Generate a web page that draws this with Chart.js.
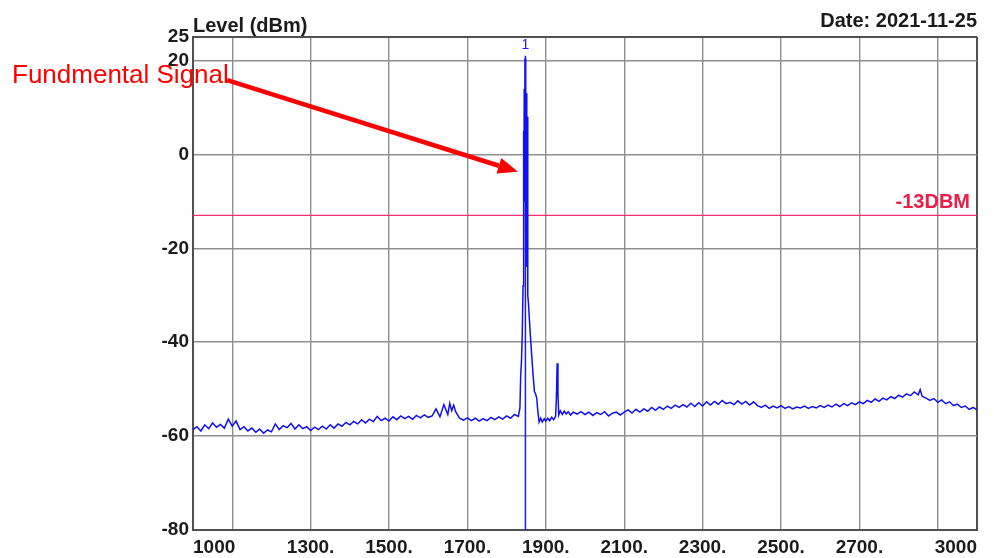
<!DOCTYPE html>
<html>
<head>
<meta charset="utf-8">
<script src="https://cdn.jsdelivr.net/npm/chart.js@4/dist/chart.umd.min.js"></script>
<style>
  html, body { margin: 0; padding: 0; background: #fff; }
  #spectrum { display: block; }
</style>
</head>
<body>
<canvas id="spectrum" width="994" height="558"></canvas>
<script>
// spectrum trace
const freqMHz = [
  1000, 1010, 1020, 1030, 1040, 1050, 1060, 1070, 1080, 1090,
  1100, 1110, 1120, 1130, 1140, 1150, 1160, 1170, 1180, 1190,
  1200, 1210, 1220, 1230, 1240, 1250, 1260, 1270, 1280, 1290,
  1300, 1310, 1320, 1330, 1340, 1350, 1360, 1370, 1380, 1390,
  1400, 1410, 1420, 1430, 1440, 1450, 1460, 1470, 1480, 1490,
  1500, 1510, 1520, 1530, 1540, 1550, 1560, 1570, 1580, 1590,
  1600, 1610, 1620, 1630, 1640, 1650, 1655, 1660, 1665, 1670,
  1680, 1690, 1700, 1710, 1720, 1730, 1740, 1750, 1760, 1770,
  1780, 1790, 1800, 1810, 1820, 1830,
  1834, 1836, 1838, 1840, 1842, 1843, 1844, 1845, 1846, 1847,
  1848, 1849, 1850, 1851, 1852, 1853, 1854, 1856, 1858, 1861,
  1865, 1868, 1871, 1874, 1877, 1880,
  1883, 1887, 1891, 1896, 1900, 1905, 1910, 1915, 1920, 1925,
  1927, 1929, 1931, 1933, 1937, 1942, 1947, 1952, 1957, 1963,
  1970, 1980, 1990, 2000, 2010, 2020, 2030, 2040, 2050, 2060,
  2070, 2080, 2090, 2100, 2110, 2120, 2130, 2140, 2150, 2160,
  2170, 2180, 2190, 2200, 2210, 2220, 2230, 2240, 2250, 2260,
  2270, 2280, 2290, 2300, 2310, 2320, 2330, 2340, 2350, 2360,
  2370, 2380, 2390, 2400, 2410, 2420, 2430, 2440, 2450, 2460,
  2470, 2480, 2490, 2500, 2510, 2520, 2530, 2540, 2550, 2560,
  2570, 2580, 2590, 2600, 2610, 2620, 2630, 2640, 2650, 2660,
  2670, 2680, 2690, 2700, 2710, 2720, 2730, 2740, 2750, 2760,
  2770, 2780, 2790, 2800, 2810, 2820, 2830, 2840, 2850, 2855,
  2860, 2870, 2880, 2890, 2900, 2910, 2920, 2930, 2940, 2950,
  2960, 2970, 2980, 2990, 3000
];
const levelDbm = [
  -58.6, -58.0, -58.9, -57.6, -58.4, -57.2, -58.1, -57.5, -58.3, -56.4,
  -57.9, -56.8, -58.6, -58.0, -58.9, -58.3, -59.2, -58.5, -59.4, -58.7,
  -59.1, -57.4, -58.6, -57.8, -58.2, -57.3, -58.5, -57.6, -58.4, -58.0,
  -58.8, -58.1, -58.6, -57.9, -58.5, -57.6, -58.3, -57.4, -57.9, -57.1,
  -57.6, -56.9, -57.4, -56.5, -57.2, -56.4, -56.9, -55.8, -56.7, -56.2,
  -56.8, -55.9, -56.5, -55.7, -56.3, -55.8, -56.4, -55.6, -56.1, -55.5,
  -56.0, -55.7, -54.2, -55.9, -53.3, -55.4, -53.0, -54.6, -53.4, -54.8,
  -56.2, -56.6, -56.1, -56.7, -56.2, -56.8, -56.3, -56.7, -56.0, -56.5,
  -55.9, -56.4, -55.7, -56.2, -55.4, -55.8,
  -54.0, -47.0, -44.0, -38.0, -28.0, 5.0, -22.0, 14.0, -10.0, 20.5,
  2.0, 15.0, -15.0, 13.0, -24.0, 8.0, -30.0, -32.0, -35.0, -39.0,
  -44.0, -47.5, -50.5, -51.0, -52.0, -55.0,
  -57.0, -56.2, -57.0, -56.3, -56.8, -56.2, -56.7, -56.0, -56.5, -55.8,
  -52.0, -44.5, -51.0, -55.5, -54.6, -55.4, -54.7, -55.3, -54.8, -55.5,
  -54.9, -55.3, -54.8, -55.4, -54.9, -55.6, -55.0, -55.4, -54.8, -55.7,
  -55.1, -54.9, -55.5, -54.9, -54.4, -55.1, -54.3, -54.9, -54.2, -54.7,
  -53.9, -54.5, -53.8, -54.3, -53.6, -54.1, -53.4, -53.9, -53.3, -53.8,
  -53.0, -53.7, -52.9, -53.6, -52.7, -53.4, -52.6, -53.2, -52.4, -53.1,
  -52.8, -53.3, -52.5, -53.2, -52.6, -53.4, -52.7, -53.5, -53.9, -53.4,
  -54.1, -53.6, -54.0, -53.5, -54.1, -53.7, -54.2, -53.8, -54.0, -53.6,
  -54.1, -53.7, -54.0, -53.5, -53.9, -53.4, -53.8, -53.2, -53.7, -53.1,
  -53.5, -52.9, -53.3, -52.7, -53.1, -52.4, -52.8, -52.1, -52.6, -51.9,
  -52.3, -51.6, -52.0, -51.3, -51.7, -51.0, -51.4, -50.6, -51.2, -50.1,
  -51.5, -51.9, -52.4, -52.0, -52.8, -52.3, -53.1, -52.7, -53.5, -53.2,
  -53.9, -53.6, -54.3, -53.9, -54.4
];

const markerFreq = 1848;
const markerLevels = [-80, 21];
const limitDbm = -13;

const xTicks = [1000, 1100, 1300, 1500, 1700, 1900, 2100, 2300, 2500, 2700, 2900, 3000];
const yTicks = [-80, -60, -40, -20, 0, 20, 25];

const FONT = "'Liberation Sans', Arial, sans-serif";
const INK = '#1b1b1b';

const overlay = {
  id: 'overlay',
  afterDraw(chart) {
    const { ctx, chartArea: area, scales: { x, y } } = chart;
    ctx.save();

    // header texts
    ctx.fillStyle = INK;
    ctx.font = `bold 20px ${FONT}`;
    ctx.textBaseline = 'alphabetic';
    ctx.textAlign = 'left';
    ctx.fillText('Level (dBm)', area.left, 32);
    ctx.textAlign = 'right';
    ctx.fillText('Date: 2021-11-25', area.right, 27);

    // limit label
    ctx.fillStyle = '#e8204a';
    ctx.font = `bold 20px ${FONT}`;
    ctx.fillText('-13DBM', area.right - 7, y.getPixelForValue(limitDbm) - 7);

    // marker number
    ctx.fillStyle = '#1a1aff';
    ctx.font = `14px ${FONT}`;
    ctx.textAlign = 'center';
    ctx.textBaseline = 'top';
    ctx.fillText('1', x.getPixelForValue(markerFreq), area.top + 1);

    // annotation
    ctx.fillStyle = '#ff0000';
    ctx.font = `26px ${FONT}`;
    ctx.textAlign = 'left';
    ctx.textBaseline = 'alphabetic';
    ctx.fillText('Fundmental Signal', 12, 83);

    const x0 = x.getPixelForValue(1087), y0 = y.getPixelForValue(15.8);
    const x1 = x.getPixelForValue(1829), y1 = y.getPixelForValue(-3.7);
    const ang = Math.atan2(y1 - y0, x1 - x0);
    const head = 20, half = 8;
    const bx = x1 - head * Math.cos(ang), by = y1 - head * Math.sin(ang);
    ctx.strokeStyle = '#ff0000';
    ctx.lineWidth = 4.5;
    ctx.beginPath();
    ctx.moveTo(x0, y0);
    ctx.lineTo(bx, by);
    ctx.stroke();
    ctx.beginPath();
    ctx.moveTo(x1, y1);
    ctx.lineTo(bx + half * Math.sin(ang), by - half * Math.cos(ang));
    ctx.lineTo(bx - half * Math.sin(ang), by + half * Math.cos(ang));
    ctx.closePath();
    ctx.fill();

    ctx.restore();
  }
};

document.addEventListener('DOMContentLoaded', () => {
  const ctx = document.querySelector('#spectrum').getContext('2d');

  const edgeColor = (value, lo, hi) => (value === lo || value === hi) ? '#505050' : '#8f8f8f';
  const edgeWidth = (value, lo, hi) => (value === lo || value === hi) ? 2 : 1.4;

  new Chart(ctx, {
    type: 'line',
    data: {
      datasets: [
        {
          data: freqMHz.map((f, i) => ({ x: f, y: levelDbm[i] })),
          borderColor: '#1010f0',
          borderWidth: 1.5,
          pointRadius: 0,
          tension: 0,
          order: 1
        },
        {
          data: markerLevels.map(v => ({ x: markerFreq, y: v })),
          borderColor: '#1a1aff',
          borderWidth: 1.5,
          pointRadius: 0,
          order: 2
        },
        {
          data: [{ x: 1000, y: limitDbm }, { x: 3000, y: limitDbm }],
          borderColor: '#f0306a',
          borderWidth: 1.3,
          pointRadius: 0,
          order: 3
        }
      ]
    },
    options: {
      responsive: false,
      animation: false,
      devicePixelRatio: 1,
      layout: { padding: { top: 37, right: 17, left: 0, bottom: 0 } },
      plugins: {
        legend: { display: false },
        tooltip: { enabled: false }
      },
      scales: {
        x: {
          type: 'linear',
          min: 1000,
          max: 3000,
          afterBuildTicks: scale => { scale.ticks = xTicks.map(v => ({ value: v })); },
          afterFit: scale => { scale.height = 28; },
          border: { display: true, color: '#505050', width: 2 },
          grid: {
            drawTicks: false,
            color: c => edgeColor(c.tick && c.tick.value, 1000, 3000),
            lineWidth: c => edgeWidth(c.tick && c.tick.value, 1000, 3000)
          },
          ticks: {
            align: 'inner',
            padding: 6,
            maxRotation: 0,
            autoSkip: false,
            color: INK,
            font: { family: FONT, size: 19, weight: 'bold' },
            callback: v => (v === 1100 || v === 2900) ? '' : (v === 1000 || v === 3000) ? String(v) : v + '.'
          }
        },
        y: {
          min: -80,
          max: 25,
          afterBuildTicks: scale => { scale.ticks = yTicks.map(v => ({ value: v })); },
          afterFit: scale => { scale.width = 193; },
          border: { display: true, color: '#505050', width: 2 },
          grid: {
            drawTicks: false,
            color: c => edgeColor(c.tick && c.tick.value, -80, 25),
            lineWidth: c => edgeWidth(c.tick && c.tick.value, -80, 25)
          },
          ticks: {
            padding: 4,
            autoSkip: false,
            color: INK,
            font: { family: FONT, size: 19, weight: 'bold' }
          }
        }
      }
    },
    plugins: [overlay]
  });
});
</script>
</body>
</html>
